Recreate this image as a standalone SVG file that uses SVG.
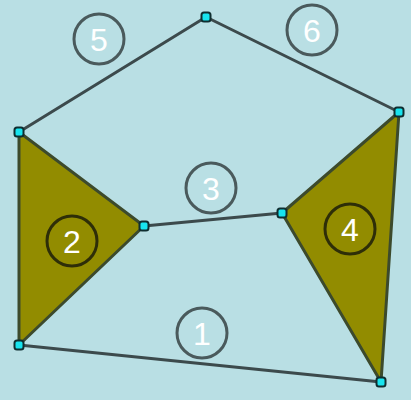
<svg xmlns="http://www.w3.org/2000/svg" width="411" height="400" viewBox="0 0 411 400">
<style>
.edge{stroke:#3c4a4c;stroke-width:3;fill:none;stroke-linecap:round}
.tri{fill:#928c00;stroke:#3c4a2c;stroke-width:3;stroke-linejoin:round}
.ring{fill:none;stroke:#4a5a5c;stroke-width:3}
.ring2{fill:none;stroke:#2e2e08;stroke-width:3}
.lbl{font-family:"Liberation Sans",Arial,sans-serif;font-size:32px;fill:#ffffff;text-anchor:middle}
.pt{fill:#18e4ee;stroke:#0f2e30;stroke-width:2}
</style>
<rect width="411" height="400" fill="#b9dfe4"/>
<g id="connectors">
<line class="edge" x1="206" y1="17" x2="19" y2="132"/>
<line class="edge" x1="206" y1="17" x2="399" y2="112"/>
<line class="edge" x1="144" y1="226" x2="282" y2="213"/>
<line class="edge" x1="19" y1="345" x2="381" y2="382"/>
</g>
<g id="tri2"><polygon class="tri" points="19,132 144,226 19,345"/></g>
<g id="tri4"><polygon class="tri" points="399,112 282,213 381,382"/></g>
<g id="label5"><circle class="ring" cx="99" cy="39" r="25"/><text class="lbl" x="99" y="51">5</text></g>
<g id="label6"><circle class="ring" cx="312" cy="30" r="25"/><text class="lbl" x="312" y="42">6</text></g>
<g id="label3"><circle class="ring" cx="211" cy="188" r="25"/><text class="lbl" x="211" y="200">3</text></g>
<g id="label2"><circle class="ring2" cx="72" cy="241" r="25"/><text class="lbl" x="72" y="253">2</text></g>
<g id="label4"><circle class="ring2" cx="350" cy="229" r="25"/><text class="lbl" x="350" y="241">4</text></g>
<g id="label1"><circle class="ring" cx="202" cy="333" r="25"/><text class="lbl" x="202" y="345">1</text></g>
<g id="nodes">
<g id="nA"><rect class="pt" x="201.5" y="12.5" width="9" height="9" rx="2.5"/></g>
<g id="nB"><rect class="pt" x="14.5" y="127.5" width="9" height="9" rx="2.5"/></g>
<g id="nC"><rect class="pt" x="394.5" y="107.5" width="9" height="9" rx="2.5"/></g>
<g id="nD"><rect class="pt" x="139.5" y="221.5" width="9" height="9" rx="2.5"/></g>
<g id="nE"><rect class="pt" x="277.5" y="208.5" width="9" height="9" rx="2.5"/></g>
<g id="nF"><rect class="pt" x="14.5" y="340.5" width="9" height="9" rx="2.5"/></g>
<g id="nG"><rect class="pt" x="376.5" y="377.5" width="9" height="9" rx="2.5"/></g>
</g>
</svg>
